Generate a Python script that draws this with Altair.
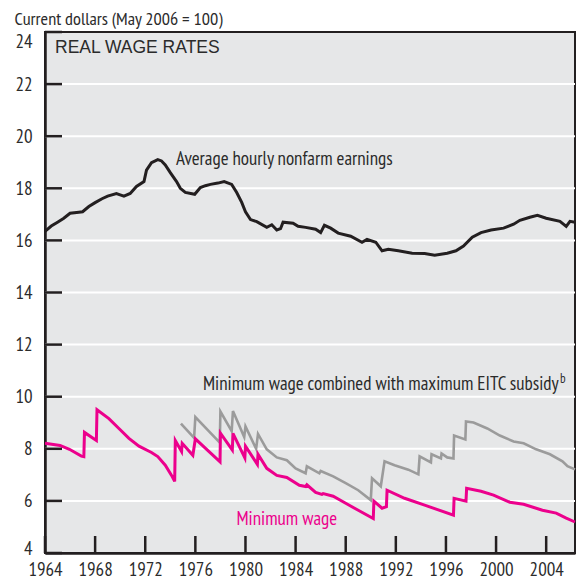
import altair as alt
import pandas as pd

# ---------------- data ----------------
earn_year = [1964.0, 1964.5, 1965.0, 1965.5, 1966.0, 1966.7, 1967.0, 1967.5, 1968.0, 1968.55,
             1969.0, 1969.7, 1970.0, 1970.3, 1970.8, 1971.3, 1971.9, 1972.1, 1972.5, 1973.0,
             1973.3, 1973.6, 1974.0, 1974.5, 1974.8, 1975.2, 1975.95, 1976.4, 1976.8, 1977.2,
             1977.8, 1978.3, 1978.9, 1979.3, 1979.7, 1980.0, 1980.4, 1980.9, 1981.7, 1982.1,
             1982.5, 1982.8, 1983.0, 1983.8, 1984.2, 1984.8, 1985.6, 1986.0, 1986.3, 1986.8,
             1987.4, 1988.4, 1989.3, 1989.7, 1990.4, 1990.9, 1991.4, 1992.2, 1993.3, 1994.3,
             1995.1, 1996.1, 1996.8, 1997.4, 1998.1, 1998.8, 1999.6, 2000.6, 2001.4, 2001.9,
             2002.7, 2003.3, 2004.0, 2005.1, 2005.6, 2005.9, 2006.3]
earn_val = [16.35, 16.55, 16.7, 16.85, 17.04, 17.08, 17.1, 17.3, 17.45, 17.6,
            17.7, 17.8, 17.75, 17.7, 17.8, 18.07, 18.26, 18.7, 18.98, 19.1,
            19.05, 18.9, 18.6, 18.26, 18.0, 17.84, 17.77, 18.03, 18.1, 18.15,
            18.2, 18.26, 18.15, 17.84, 17.46, 17.1, 16.8, 16.72, 16.5, 16.6,
            16.4, 16.45, 16.7, 16.66, 16.54, 16.5, 16.43, 16.3, 16.58, 16.47,
            16.28, 16.16, 15.93, 16.04, 15.93, 15.6, 15.66, 15.6, 15.51, 15.5,
            15.43, 15.51, 15.6, 15.78, 16.12, 16.3, 16.4, 16.47, 16.62, 16.77,
            16.89, 16.96, 16.85, 16.73, 16.54, 16.73, 16.7]

min_year = [1964.0, 1965.2, 1965.95, 1966.9, 1967.1, 1967.15, 1968.1, 1968.15, 1969.1, 1969.9,
            1970.7, 1971.5, 1972.5, 1973.0, 1973.6, 1974.1, 1974.35, 1974.4, 1974.9, 1974.95,
            1975.8, 1976.0, 1977.97, 1978.0, 1978.95, 1979.0, 1979.95, 1980.0, 1980.95, 1981.0,
            1981.7, 1982.5, 1983.3, 1984.3, 1984.8, 1984.9, 1985.6, 1986.1, 1986.2, 1987.0,
            1988.0, 1989.0, 1990.2, 1990.25, 1990.9, 1991.25, 1991.3, 1992.7, 1994.3, 1996.6,
            1996.65, 1997.6, 1997.65, 1998.8, 1999.8, 2001.1, 2002.2, 2003.7, 2004.8, 2005.6,
            2006.3]
min_val = [8.21, 8.13, 7.98, 7.72, 7.7, 8.63, 8.32, 9.5, 9.16, 8.78,
           8.4, 8.1, 7.86, 7.7, 7.37, 6.98, 6.75, 8.32, 7.9, 8.21,
           7.75, 8.38, 7.5, 8.6, 7.95, 8.59, 7.65, 8.1, 7.4, 7.79,
           7.25, 6.98, 6.9, 6.6, 6.55, 6.62, 6.33, 6.25, 6.28, 6.18,
           5.91, 5.64, 5.32, 5.99, 5.72, 5.78, 6.41, 6.1, 5.84, 5.45,
           6.1, 5.99, 6.48, 6.37, 6.22, 5.95, 5.87, 5.64, 5.53, 5.34,
           5.19]

eitc_year = [1974.85, 1975.9, 1976.0, 1977.95, 1978.0, 1978.9, 1979.0, 1979.9, 1980.0, 1980.85,
             1981.0, 1981.7, 1982.5, 1983.3, 1984.0, 1984.8, 1984.9, 1985.9, 1986.0, 1987.0,
             1988.0, 1989.0, 1990.0, 1990.1, 1990.8, 1991.1, 1991.9, 1993.0, 1993.8, 1993.9,
             1994.8, 1994.85, 1995.6, 1995.65, 1996.1, 1996.6, 1996.65, 1997.55, 1997.6, 1998.2,
             1999.3, 2000.3, 2001.4, 2002.2, 2003.2, 2004.3, 2005.3, 2005.7, 2006.3]
eitc_val = [8.97, 8.42, 9.22, 8.24, 9.43, 8.68, 9.45, 8.45, 8.86, 8.0,
            8.57, 7.98, 7.67, 7.56, 7.25, 7.06, 7.33, 7.06, 7.15, 6.94,
            6.68, 6.41, 6.03, 6.87, 6.56, 7.52, 7.37, 7.2, 7.02, 7.71,
            7.48, 7.79, 7.63, 7.82, 7.67, 7.63, 8.51, 8.36, 9.05, 9.01,
            8.78, 8.51, 8.28, 8.21, 7.98, 7.79, 7.52, 7.33, 7.21]

x_ticks = [1964, 1968, 1972, 1976, 1980, 1984, 1988, 1992, 1996, 2000, 2004]
y_ticks = [4, 6, 8, 10, 12, 14, 16, 18, 20, 22, 24]
grid_vals = [6, 8, 10, 12, 14, 16, 18, 20, 22]

# ---------------- styling ----------------
W, H = 530, 521
NARROW = "PT Sans Narrow, DejaVu Sans Condensed, sans-serif"
REGULAR = "Liberation Sans, Arial, sans-serif"
DARK = "#231f20"
TXT = "#2b2b2b"
PINK = "#ec008c"
GRAY = "#9b9b9b"
FS = 19

xs = alt.Scale(domain=[1964, 2006.3], nice=False, zero=False)
ys = alt.Scale(domain=[4, 24], nice=False, zero=False)

earn_df = pd.DataFrame({"year": earn_year, "value": earn_val})
min_df = pd.DataFrame({"year": min_year, "value": min_val})
eitc_df = pd.DataFrame({"year": eitc_year, "value": eitc_val})

x_axis = alt.Axis(values=x_ticks, format="d", title=None, ticks=False, tickSize=0, grid=False,
                  domainColor=DARK, domainWidth=2.5, labelFont=NARROW, labelFontSize=FS,
                  labelColor=TXT, labelPadding=22, labelBaseline="alphabetic", labelAngle=0,
                  labelOverlap=False, labelFlush=False)
y_axis = alt.Axis(values=y_ticks, title="Current dollars (May 2006 = 100)", titleAngle=0,
                  titleAlign="left", titleBaseline="alphabetic", titleX=-31, titleY=-8,
                  titleFont=NARROW, titleFontSize=18.3, titleFontWeight="normal", titleColor=TXT,
                  ticks=False, tickSize=0, grid=False, domainColor=DARK, domainWidth=2.5,
                  labelFont=NARROW, labelFontSize=FS, labelColor=TXT, labelPadding=13,
                  labelOverlap=False, labelFlush=False,
                  labelBaseline={"condition": {"test": "datum.value == 24", "value": "top"},
                                 "value": "middle"},
                  labelOffset={"condition": {"test": "datum.value == 4", "value": -5},
                               "value": 0})

X = alt.X("year:Q", scale=xs, axis=x_axis)
Y = alt.Y("value:Q", scale=ys, axis=y_axis)

earn = alt.Chart(earn_df).mark_line(color=DARK, strokeWidth=3).encode(x=X, y=Y)
eitc = alt.Chart(eitc_df).mark_line(color=GRAY, strokeWidth=2.6).encode(x=X, y=Y)
minw = alt.Chart(min_df).mark_line(color=PINK, strokeWidth=3).encode(x=X, y=Y)

grid = alt.Chart(pd.DataFrame({"value": grid_vals})).mark_rule(
    color="white", strokeWidth=2).encode(y=Y)

ytick = alt.Chart(pd.DataFrame({"value": y_ticks})).mark_rule(
    color=DARK, strokeWidth=2.5).encode(y=Y, x=alt.value(0), x2=alt.value(17))

xtick = alt.Chart(pd.DataFrame({"year": x_ticks})).mark_rule(
    color=DARK, strokeWidth=2.5).encode(x=X, y=alt.value(H - 17), y2=alt.value(H))


def label(text, x, y, font=NARROW, size=FS, color=TXT):
    return alt.Chart(pd.DataFrame({"label": [text]})).mark_text(
        align="left", baseline="alphabetic", font=font, fontSize=size, color=color
    ).encode(text="label:N", x=alt.value(x), y=alt.value(y))


texts = [
    label("REAL WAGE RATES", 10, 21, font=REGULAR, size=17.5),
    label("Average hourly nonfarm earnings", 131, 132.5),
    label("Minimum wage combined with maximum EITC subsidy", 158, 357.6),
    label("b", 515, 350.6, size=13),
    label("Minimum wage", 191.5, 493, color=PINK),
]

chart = alt.layer(grid, earn, eitc, minw, ytick, xtick, *texts).properties(
    width=W, height=H, autosize="none",
    padding={"left": 37, "top": 24, "right": 1, "bottom": 25},
).configure_view(fill="#e6e7e8", stroke=DARK, strokeWidth=2)

chart.save("out.html", embed_options={"renderer": "svg", "actions": False})
